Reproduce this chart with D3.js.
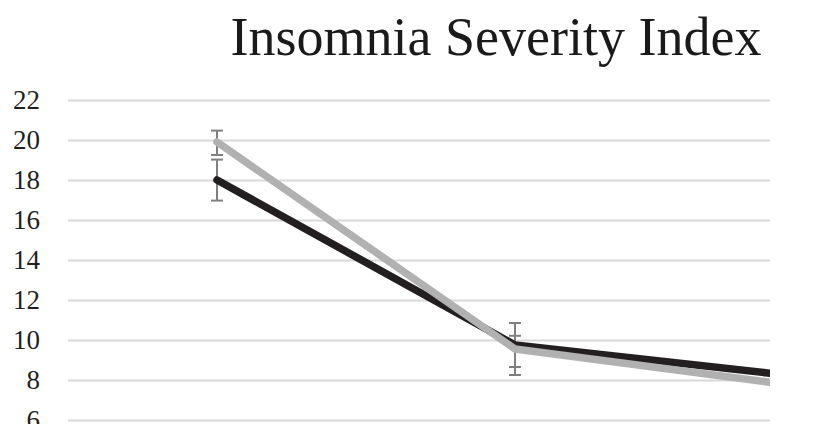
<!DOCTYPE html>
<html>
<head>
<meta charset="utf-8">
<script src="https://cdn.jsdelivr.net/npm/d3@7"></script>
<style>
    body { margin: 0; background: #fff; }
    svg { display: block; }
</style>
</head>
<body>
<div id="chart"></div>
<script>
// values (third point is mostly cropped away on the right)
const categories = ["Baseline", "Post-treatment", "Follow-up"];
const blackValues = [18.0, 9.75, 8.1];
const blackErrUp = [1.02, 1.1, 0.9];
const blackErrDown = [1.03, 1.1, 0.9];
const grayValues = [19.9, 9.55, 7.6];
const grayErrUp = [0.57, 0.66, 0.9];
const grayErrDown = [0.65, 1.3, 0.9];
const yTicks = [6, 8, 10, 12, 14, 16, 18, 20, 22];
const titleText = "Insomnia Severity Index";

var width = 824, height = 433;
var left = 68, right = 770;
var cropBottom = 424; // the source picture is cut just under the "6" gridline

var svg = d3.select("#chart")
    .append("svg")
    .attr("width", width)
    .attr("height", height);

var xScale = d3.scalePoint()
    .domain(categories)
    .range([68, 962])
    .padding(0.5);

var yScale = d3.scaleLinear()
    .domain([6, 22])
    .range([420, 100]);

svg.append("clipPath").attr("id", "pageClip")
    .append("rect")
    .attr("x", 0).attr("y", 0)
    .attr("width", width).attr("height", cropBottom);

svg.append("clipPath").attr("id", "plotClip")
    .append("rect")
    .attr("x", 0).attr("y", 0)
    .attr("width", right).attr("height", cropBottom);

var root = svg.append("g").attr("clip-path", "url(#pageClip)");

// gridlines
let grid = root.append("g")
    .attr("transform", `translate(${left},0)`)
    .call(d3.axisRight(yScale).tickValues(yTicks).tickSize(right - left).tickFormat(""));
grid.select(".domain").remove();
grid.selectAll("line").style("stroke", "#d9d9d9").style("stroke-width", 2);

// tick labels
let yAxis = root.append("g")
    .attr("transform", "translate(48,0)")
    .call(d3.axisLeft(yScale).tickValues(yTicks).tickSize(0).tickPadding(8));
yAxis.select(".domain").remove();
yAxis.selectAll("text")
    .style("font-family", "'Liberation Serif', 'Times New Roman', serif")
    .style("font-size", "27px")
    .style("fill", "#1f1f1f");

root.append("text")
    .attr("x", 496)
    .attr("y", 55)
    .attr("text-anchor", "middle")
    .style("font-family", "'Liberation Serif', 'Times New Roman', serif")
    .style("font-size", "54px")
    .style("fill", "#1a1a1a")
    .text(titleText);

var plot = svg.append("g").attr("clip-path", "url(#plotClip)");

function makeSeries(values, up, down) {
    return categories.map((c, i) => ({key: c, value: values[i], hi: values[i] + up[i], lo: values[i] - down[i]}));
}

var blackData = makeSeries(blackValues, blackErrUp, blackErrDown);
var grayData = makeSeries(grayValues, grayErrUp, grayErrDown);

function drawErrorBars(data) {
    let g = plot.append("g").style("stroke", "#808080").style("stroke-width", 2);
    data.forEach(function (d) {
        let cx = xScale(d.key);
        g.append("line").attr("x1", cx).attr("x2", cx).attr("y1", yScale(d.hi)).attr("y2", yScale(d.lo));
        g.append("line").attr("x1", cx - 6).attr("x2", cx + 6).attr("y1", yScale(d.hi)).attr("y2", yScale(d.hi));
        g.append("line").attr("x1", cx - 6).attr("x2", cx + 6).attr("y1", yScale(d.lo)).attr("y2", yScale(d.lo));
    });
}

drawErrorBars(blackData);
drawErrorBars(grayData);

var line = d3.line()
    .x(d => xScale(d.key))
    .y(d => yScale(d.value));

plot.append("path")
    .datum(blackData)
    .attr("d", line)
    .style("fill", "none")
    .style("stroke", "#231f20")
    .style("stroke-width", 7.5)
    .style("stroke-linecap", "round")
    .style("stroke-linejoin", "round");

plot.append("path")
    .datum(grayData)
    .attr("d", line)
    .style("fill", "none")
    .style("stroke", "#b1b1b1")
    .style("stroke-width", 7.5)
    .style("stroke-linecap", "round")
    .style("stroke-linejoin", "round");
</script>
</body>
</html>
